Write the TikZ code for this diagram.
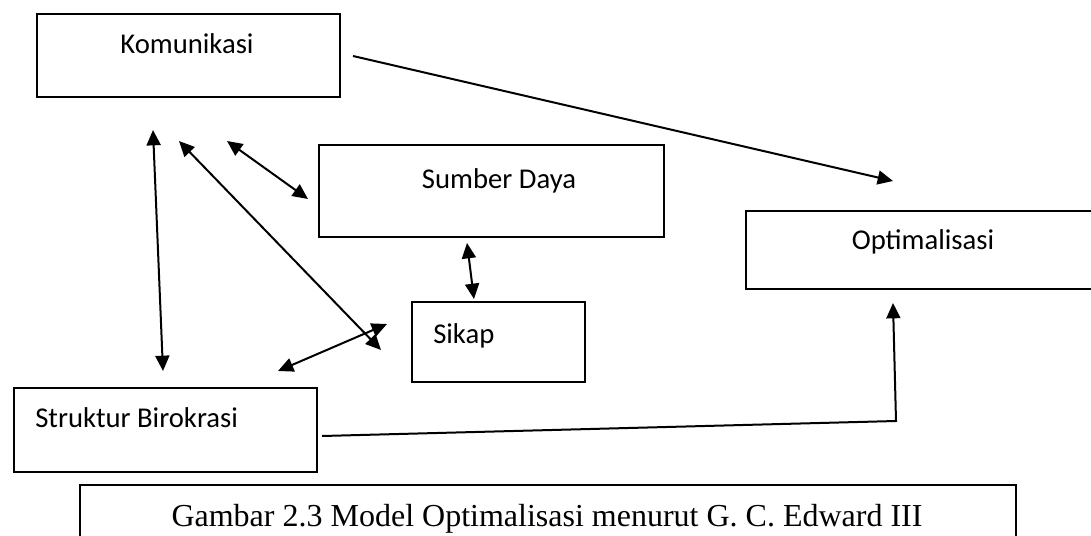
\documentclass[tikz,border=0pt]{standalone}
\usepackage{fontspec}
\setmainfont{Liberation Serif}
\newfontfamily\boxfont{Carlito}
\usetikzlibrary{arrows.meta}
\tikzset{
  box/.style={draw, line width=1.5pt, inner sep=0pt, anchor=north west},
  lbl/.style={font=\boxfont\fontsize{21.5}{26}\selectfont, inner sep=0pt},
  conn/.style={line width=1.5pt, -{Triangle[length=11.5pt, width=10.5pt]}},
  both/.style={line width=1.5pt, {Triangle[length=11.5pt, width=10.5pt]}-{Triangle[length=11.5pt, width=10.5pt]}},
}
\begin{document}
\begin{tikzpicture}[x=0.75pt, y=-0.75pt]
  \useasboundingbox (0,0) rectangle (1091,535);
  \clip (0,0) rectangle (1091,535);

  % boxes
  \node[box, minimum width=303*0.75pt, minimum height=83*0.75pt] (kom) at (36,13) {};
  \node[box, minimum width=345*0.75pt, minimum height=92*0.75pt] (sd) at (318,144) {};
  \node[box, minimum width=420*0.75pt, minimum height=78*0.75pt] (opt) at (745,210) {};
  \node[box, minimum width=173*0.75pt, minimum height=80*0.75pt] (sik) at (411,301) {};
  \node[box, minimum width=303*0.75pt, minimum height=84*0.75pt] (sb) at (13,387) {};
  \node[box, minimum width=936*0.75pt, minimum height=80*0.75pt] (cap) at (79,484) {};

  % labels
  \node[lbl, anchor=base] (komt) at (187,54) {Komunikasi};
  \node[lbl, anchor=base] (sdt) at (499,188) {Sumber Daya};
  \node[lbl, anchor=base] (optt) at (923,249) {Optimalisasi};
  \node[lbl, anchor=base west] (sikt) at (433,343) {Sikap};
  \node[lbl, anchor=base west] (sbt) at (35,427) {Struktur Birokrasi};
  \node[anchor=base, inner sep=0pt, font=\fontsize{24}{28}\selectfont] (capt) at (547,526)
    {Gambar 2.3 Model Optimalisasi menurut G. C. Edward III};

  % connector end points
  \coordinate (k1) at (353,56);
  \coordinate (o1) at (893,181);
  \coordinate (v1) at (153,130);
  \coordinate (v2) at (163,371);
  \coordinate (d1) at (179,141);
  \coordinate (d2) at (381,350);
  \coordinate (s1) at (227,141);
  \coordinate (s2) at (308,199);
  \coordinate (t1) at (467,243);
  \coordinate (t2) at (474,299);
  \coordinate (r1) at (387,324);
  \coordinate (r2) at (278,371);
  \coordinate (b1) at (322,436);
  \coordinate (b2) at (896,421);
  \coordinate (o2) at (893,303);

  % connectors
  \draw[conn] (k1) -- (o1);
  \draw[both] (v1) -- (v2);
  \draw[both] (d1) -- (d2);
  \draw[both] (s1) -- (s2);
  \draw[both] (t1) -- (t2);
  \draw[both] (r1) -- (r2);
  \draw[conn] (b1) -- (b2) -- (o2);
\end{tikzpicture}
\end{document}
